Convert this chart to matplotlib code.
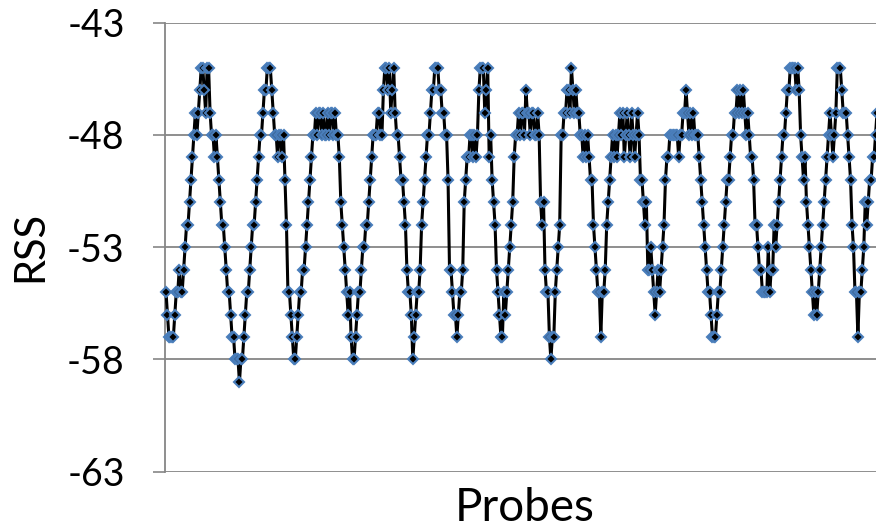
import matplotlib
matplotlib.use("Agg")
import matplotlib.pyplot as plt
import numpy as np

# RSS readings per probe (dBm), left to right
rss = [
    -55, -56, -57, -57, -57, -57, -56, -55, -55, -54, -55, -55, -54,
    -53, -52, -52, -51, -50, -49,
    -48, -47, -48, -47, -46, -45, -45, -46, -47, -45, -45, -47, -48, -48, -49,
    -48, -49, -50, -51, -52, -52, -53, -54, -55, -55, -56, -57, -57, -58, -58, -58, -59,
    -58, -58, -57, -56, -55, -55, -54, -53, -52, -52, -51, -50, -49, -48, -48, -47, -46, -46, -45,
    -45, -45, -46, -47, -48, -48, -49, -48, -48, -49, -48,
    -50, -52, -55, -55, -56, -57, -58, -58, -57, -56, -55, -55,
    -54, -54, -53, -52, -51, -50, -49, -48,
    -48, -47, -48, -47, -47, -48, -47, -48, -48, -47, -48, -47, -47, -48, -47, -48, -48,
    -49, -51, -52, -53, -54, -55, -56, -55, -57, -58, -58,
    -57, -56, -55, -55, -54, -53, -53, -52, -52, -51, -50, -49, -48, -48, -48, -47, -47, -48, -48,
    -46, -45, -45, -46, -45, -47, -46, -45, -47,
    -48, -48, -49, -50, -50, -51, -52, -54, -55, -55, -56, -58,
    -57, -56, -55, -55, -54, -52, -51, -50, -49, -48, -48, -47, -46, -46, -45,
    -45, -45, -46, -46, -47,
    -47, -48, -48, -50, -54, -54, -55, -56, -56, -57,
    -56, -55, -55, -54, -51, -50, -49, -49, -48, -48, -49, -48, -49, -48, -46, -45,
    -45, -45, -47, -46, -45, -49,
    -48, -50, -51, -52, -54, -55, -56, -57,
    -57, -55, -56, -55,
    -54, -53, -52, -51, -49, -48, -48, -47, -48, -47, -47, -48, -46,
    -47, -47, -48, -47, -47, -48, -48, -47, -48,
    -51, -52, -51, -54, -55, -55, -57, -58,
    -57, -57, -55, -54, -53, -52, -48, -48, -47,
    -47, -46, -46, -47, -45, -46, -47, -46, -47, -47, -48, -48,
    -49, -48, -49, -48, -49, -50, -50, -52, -53, -54, -55, -55, -57,
    -55, -55, -54, -52, -51, -50, -49, -48, -49,
    -48, -49, -48, -47, -48, -47, -49, -48, -47, -48, -49, -47, -48, -49, -48, -47,
    -48, -50, -50, -51, -52, -51, -54, -54, -53, -54, -55, -56, -55,
    -54, -55, -54, -53, -52, -50, -49, -49, -48,
    -48, -48, -48, -48, -48, -49, -48, -48, -47, -47, -46, -47, -48, -47, -48, -47, -48, -48, -48, -49,
    -50, -51, -52, -53, -54, -55, -55, -56, -57, -57,
    -57, -56, -55, -55, -54, -53, -52, -51, -50, -50, -49, -48, -48, -47, -47, -46,
    -47, -46, -47, -46, -47, -48, -47, -48, -49,
    -49, -50, -52, -52, -53, -54, -54, -55, -55, -55,
    -55, -53, -55, -54, -54, -52, -53,
    -52, -51, -50, -49, -48, -48, -47, -46, -46, -45,
    -45, -45, -45, -46, -45, -46,
    -48, -49, -50, -49, -51, -52, -53, -54, -55, -56, -55,
    -56, -55, -54, -53, -52, -51, -50, -49, -48, -47, -48, -49, -48, -47, -45,
    -45, -45, -46, -47, -47, -47, -48,
    -49, -50, -52, -53, -55, -55, -57,
    -55, -55, -54, -53, -51, -52, -51, -50, -50, -49, -49, -48, -47,
]
y_ticks = [-63, -58, -53, -48, -43]

plt.rcParams['font.family'] = ['Lato', 'DejaVu Sans']

W, H = 876, 530
fig = plt.figure(figsize=(W / 100, H / 100), dpi=100, facecolor='white')

# axes box in pixel terms: left spine 165, top grid 22.7, bottom grid 471.7
ax = fig.add_axes([165 / W, 1 - 471.7 / H, 1 - 165 / W, (471.7 - 22.7) / H])

n = len(rss)
x = np.arange(n)
px_per_pt = (877 - 166) / (n - 1)
ax.set_xlim(-(166 - 165) / px_per_pt, (876 - 166) / px_per_pt)
ax.set_ylim(-63, -43)

ax.plot(x, rss, color='black', lw=2.2, marker='D', markersize=5.5,
        markerfacecolor='black', markeredgecolor='#4A7EBB', markeredgewidth=1.5,
        clip_on=False, zorder=3)

ax.set_yticks(y_ticks)
ax.set_yticklabels([str(v) for v in y_ticks], fontsize=27)
ax.tick_params(axis='y', length=9, width=1.2, color='#868686', pad=20)
ax.set_xticks([])
ax.yaxis.grid(True, color='#868686', lw=1.3)
ax.set_axisbelow(True)

for s in ['top', 'right', 'bottom']:
    ax.spines[s].set_visible(False)
ax.spines['left'].set_color('#868686')
ax.spines['left'].set_linewidth(1.3)

fig.text(30 / W, 1 - 246 / H, 'RSS', rotation=90, fontsize=30,
         ha='center', va='center')
fig.text(525 / W, 1 - 508 / H, 'Probes', fontsize=33, ha='center', va='center')

fig.savefig('out.png', dpi=100, facecolor='white')
